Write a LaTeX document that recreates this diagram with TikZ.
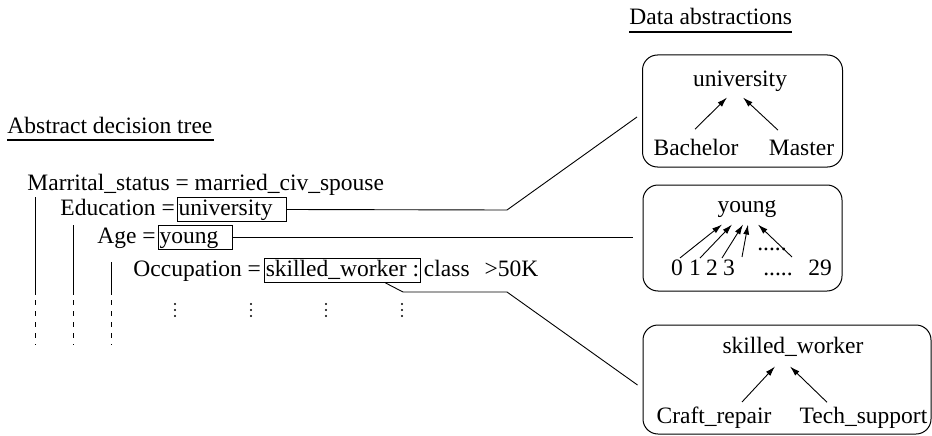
\documentclass[tikz,border=0pt]{standalone}
\usepackage{fontspec}
\setmainfont{Liberation Serif}
\usetikzlibrary{arrows.meta, positioning}

\begin{document}
\begin{tikzpicture}[x=1pt, y=-1pt, line width=0.9pt,
    font=\fontsize{23.5pt}{28pt}\selectfont,
    every node/.style={inner sep=0pt},
    valbox/.style={draw, line width=0.8pt, inner xsep=1pt, inner ysep=1.5pt, text height=16pt, text depth=5pt},
    frame/.style={draw, line width=1pt, rounded corners=15pt},
    arr/.style={-{Latex[length=10pt, width=6pt]}},
    uline/.style={line width=2.4pt}]
    \useasboundingbox (0,0) rectangle (932,436);
    % headings
    \node[anchor=base west] (datahd) at (629,25) {Data abstractions};
    \draw[uline] ([yshift=-7pt]datahd.base west) -- ([yshift=-7pt]datahd.base east);
    \node[anchor=base west] (treehd) at (7,133) {Abstract decision tree};
    \draw[uline] ([yshift=-7pt]treehd.base west) -- ([yshift=-7pt,xshift=1pt]treehd.base east);
    % decision tree
    \node[anchor=base west] (marr) at (27,190) {Marrital\_status = married\_civ\_spouse};
    \node[anchor=base west] (edu) at (60,215) {Education =};
    \node[valbox, anchor=base west] (eduval) at ([xshift=2pt]edu.base east) {university\kern0.55em};
    \node[anchor=base west] (age) at (97,243) {Age =};
    \node[valbox, anchor=base west] (ageval) at ([xshift=2pt]age.base east) {young\kern0.55em};
    \node[anchor=base west] (occ) at (133,276) {Occupation =};
    \node[valbox, anchor=base west] (occval) at ([xshift=3pt]occ.base east) {skilled\_worker :};
    \node[anchor=base west] (cls) at ([xshift=3pt]occval.base east) {class\kern15pt>50K};
    \foreach \x/\top in {35/197, 73/225, 111/262} {
        \draw (\x,\top) -- (\x,295);
        \draw[dash pattern=on 5pt off 6pt] (\x,300) -- (\x,345);
    }
    \foreach \x in {175,251,326,402}
        \foreach \y in {304,310,316}
            \fill (\x,\y) circle (1.2pt);
    % abstractions
    \node[frame, minimum width=200pt, minimum height=112pt] (uniframe) at (742.5,111) {};
    \node[anchor=base] (uni) at (740,87) {university};
    \node[anchor=base] (bach) at (696,155) {Bachelor};
    \node[anchor=base] (mast) at (801.5,155) {Master};
    \draw[arr] ([xshift=-1pt,yshift=9pt]bach.north) -- ([xshift=-13pt,yshift=-5pt]uni.south);
    \draw[arr] ([xshift=-23.5pt,yshift=9pt]mast.north) -- ([xshift=3pt,yshift=-5pt]uni.south);

    \node[frame, minimum width=199pt, minimum height=106pt] (youngframe) at (742.5,238) {};
    \node[anchor=base] (yng) at (747,212) {young};
    \node[anchor=base] (d0) at (677,275) {0};
    \node[anchor=base] (d1) at (695,275) {1};
    \node[anchor=base] (d2) at (712,275) {2};
    \node[anchor=base] (d3) at (729,275) {3};
    \node[anchor=base] (dlow) at (778,275) {.....};
    \node[anchor=base] (d29) at (820,275) {29};
    \node[anchor=base] (dup) at (772,250) {.....};
    \draw[arr] ([xshift=3pt,yshift=1pt]d0.north) -- ([xshift=-25pt,yshift=-7pt]yng.south);
    \draw[arr] ([xshift=5pt,yshift=1pt]d1.north) -- ([xshift=-15pt,yshift=-7pt]yng.south);
    \draw[arr] ([xshift=10pt,yshift=1pt]d2.north) -- ([xshift=-4pt,yshift=-7pt]yng.south);
    \draw[arr] ([xshift=13pt,yshift=2pt]d3.north) -- ([xshift=1pt,yshift=-7pt]yng.south);
    \draw[arr] ([xshift=-28pt,yshift=2pt]d29.north) -- ([xshift=11pt,yshift=-7pt]yng.south);

    \node[frame, minimum width=288pt, minimum height=109pt] (skillframe) at (787,379.5) {};
    \node[anchor=base] (skill) at (793,353) {skilled\_worker};
    \node[anchor=base] (craft) at (714,423) {Craft\_repair};
    \node[anchor=base] (tech) at (863.5,423) {Tech\_support};
    \draw[arr] ([xshift=28pt,yshift=4pt]craft.north) -- ([xshift=-18pt,yshift=-10pt]skill.south);
    \draw[arr] ([xshift=-36.5pt,yshift=4pt]tech.north) -- ([xshift=-3pt,yshift=-10pt]skill.south);
    % links from tree values to abstractions
    \coordinate (ebend) at (507,210);
    \coordinate (obend1) at (403,292);
    \coordinate (obend2) at (507,292);
    \draw (eduval.east) -- (ebend) -- ([xshift=-5pt,yshift=-6pt]uniframe.west);
    \draw (ageval.east) -- ([xshift=-10pt]ageval.east -| youngframe.west);
    \draw ([xshift=43pt]occval.south) -- (obend1) -- (obend2) -- ([xshift=-5pt,yshift=-5.5pt]skillframe.west);
\end{tikzpicture}
\end{document}
